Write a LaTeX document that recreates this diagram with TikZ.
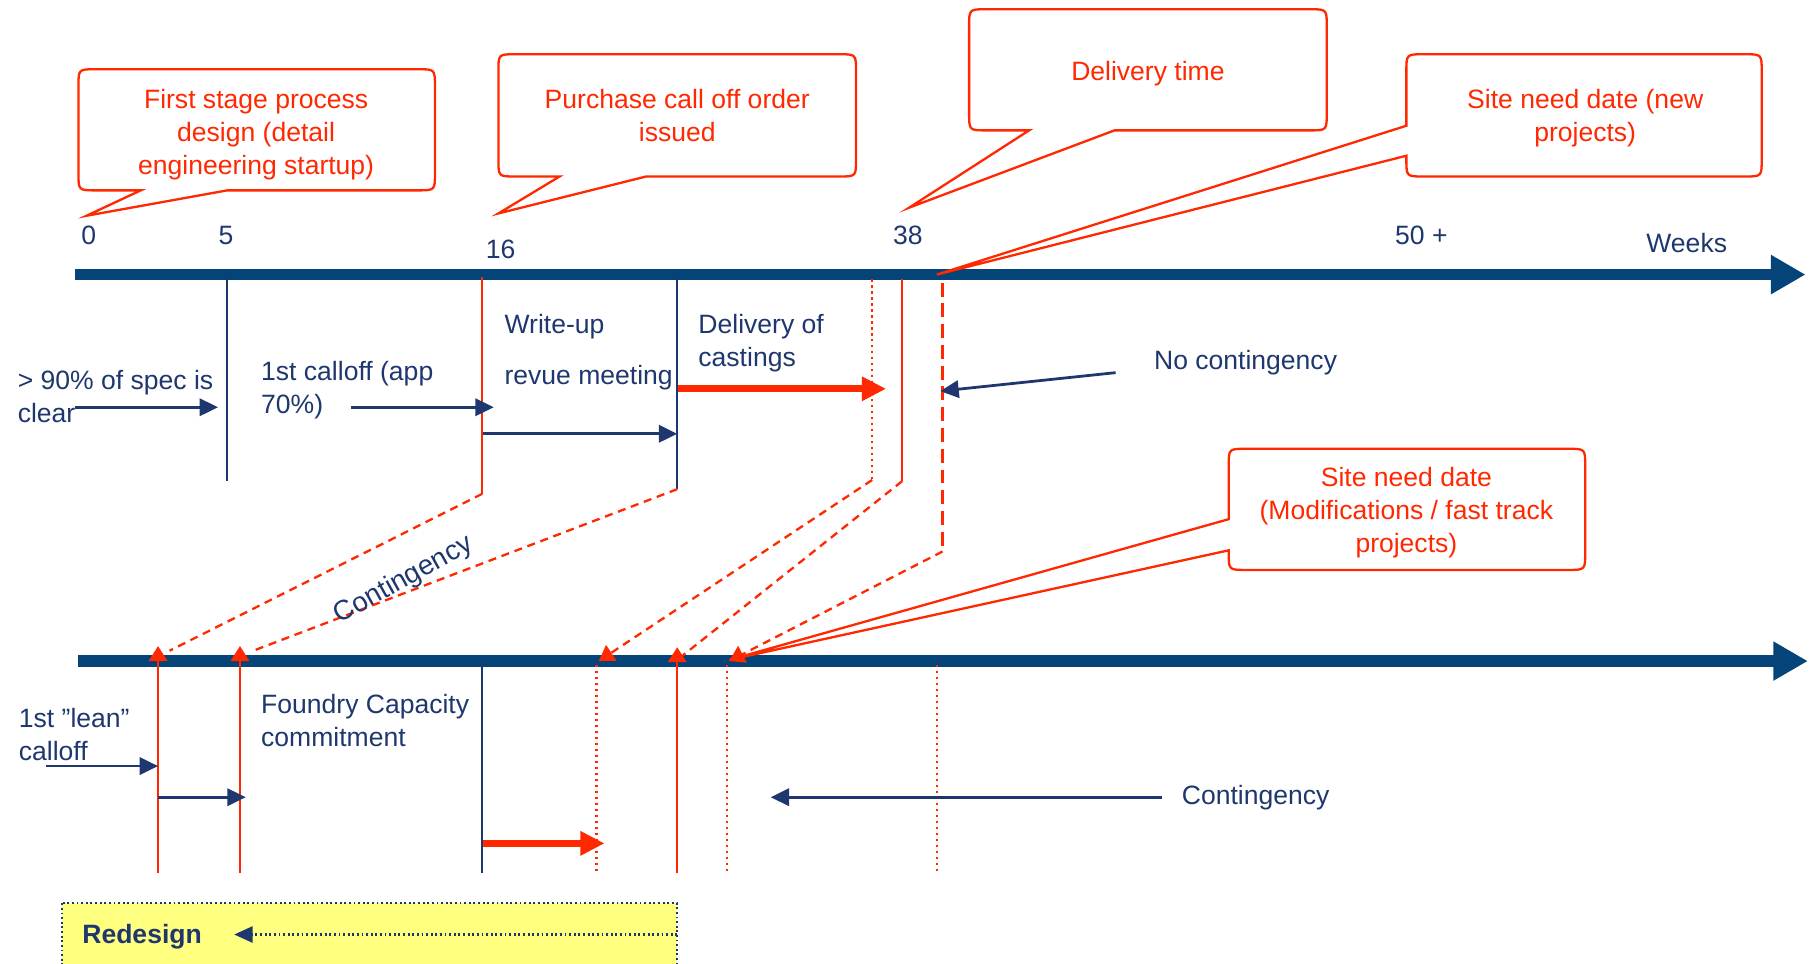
\documentclass[tikz,border=0pt]{standalone}
\usepackage{fontspec}
\setmainfont{Liberation Sans}
\usetikzlibrary{arrows.meta}
\definecolor{axisblue}{RGB}{4,68,120}
\definecolor{navy}{RGB}{30,55,110}
\definecolor{myred}{RGB}{255,40,0}
\definecolor{myyellow}{RGB}{255,255,128}
\newcommand\myfs{\fontsize{11.5}{14.3}\selectfont}
\begin{document}
\begin{tikzpicture}[x=0.5pt,y=-0.5pt,
  axis/.style={draw=axisblue,line width=5pt,-{Triangle[length=15pt,width=16pt]}},
  lbl/.style={text=navy,inner sep=0pt,font=\myfs},
  ltxt/.style={text=navy,inner sep=0pt,font=\myfs,align=left,anchor=base west},
  rtxt/.style={text=myred,inner sep=0pt,font=\myfs,align=center,anchor=base},
  call/.style={draw=myred,line width=1pt,fill=white,line join=miter},
  bluearr/.style={draw=navy,line width=1.2pt,-{Triangle[length=8pt,width=7.5pt]}},
  redthick/.style={draw=myred,line width=3.2pt,-{Triangle[length=10.5pt,width=10pt]}},
  bvline/.style={draw=navy,line width=1pt},
  rvline/.style={draw=myred,line width=1pt},
  rdot/.style={draw=myred,line width=1pt,dash pattern=on 1pt off 1.6pt},
  rdash/.style={draw=myred,line width=1pt,dash pattern=on 3.5pt off 2.5pt},
  rlong/.style={draw=myred,line width=1pt,dash pattern=on 6pt off 3pt},
  redtip/.style={-{Triangle[length=6.5pt,width=8pt]}}
]
\useasboundingbox (0,0) rectangle (1568,835);

% ---------- axes ----------
\coordinate (a1s) at (65,238);  \coordinate (a1e) at (1565,238);
\coordinate (a2s) at (68,573);  \coordinate (a2e) at (1567,573);
\draw[axis] (a1s) -- (a1e);
\draw[axis] (a2s) -- (a2e);

% ---------- top verticals ----------
\coordinate (v1t) at (197,240); \coordinate (v1b) at (197,417);
\coordinate (v2t) at (418,240); \coordinate (v2b) at (418,428);
\coordinate (v3t) at (587,240); \coordinate (v3b) at (587,424);
\coordinate (v4t) at (756,242); \coordinate (v4b) at (756,416);
\coordinate (v5t) at (782,242); \coordinate (v5b) at (782,417);
\coordinate (v6t) at (817,245); \coordinate (v6b) at (817,476);
\draw[bvline] (v1t) -- (v1b);
\draw[rvline] (v2t) -- (v2b);
\draw[bvline] (v3t) -- (v3b);
\draw[rdot] (v4t) -- (v4b);
\draw[rvline] (v5t) -- (v5b);
\draw[rlong] (v6t) -- (v6b);

% ---------- bottom verticals ----------
\coordinate (w1b) at (137,757); \coordinate (w1t) at (137,560);
\coordinate (w2b) at (208,757); \coordinate (w2t) at (208,560);
\coordinate (w3t) at (418,575); \coordinate (w3b) at (418,757);
\coordinate (w4t) at (517,576); \coordinate (w4b) at (517,757);
\coordinate (w5b) at (587,757); \coordinate (w5t) at (587,561);
\coordinate (w6t) at (630,576); \coordinate (w6b) at (630,757);
\coordinate (w7t) at (812,576); \coordinate (w7b) at (812,757);
\draw[rvline,redtip] (w1b) -- (w1t);
\draw[rvline,redtip] (w2b) -- (w2t);
\draw[bvline] (w3t) -- (w3b);
\draw[rdot] (w4t) -- (w4b);
\draw[rvline,redtip] (w5b) -- (w5t);
\draw[rdot] (w6t) -- (w6b);
\draw[rdot] (w7t) -- (w7b);

% ---------- dashed diagonals ----------
\coordinate (d1e) at (147,564);
\coordinate (d2e) at (217,565);
\coordinate (d3e) at (519,573);
\coordinate (d4e) at (592,568);
\coordinate (d5e) at (632,573);
\coordinate (v6c) at (817,478);
\draw[rdash] (v2b) -- (d1e);
\draw[rdash] (v3b) -- (d2e);
\draw[rdash,redtip] (v4b) -- (d3e);
\draw[rdash] (v5b) -- (d4e);
\draw[rdash,redtip] (v6c) -- (d5e);

% ---------- axis labels ----------
\node[lbl,anchor=base] (l0) at (77,212) {0};
\node[lbl,anchor=base] (l5) at (196,212) {5};
\node[lbl,anchor=base] (l16) at (434,224) {16};
\node[lbl,anchor=base] (l38) at (787,212) {38};
\node[lbl,anchor=base] (l50) at (1232,212) {50 +};
\node[lbl,anchor=base] (lwk) at (1462,219) {Weeks};

% ---------- callouts ----------
\draw[call] (83,60) -- (362,60) .. controls (377,60) .. (377,75) -- (377,150)
  .. controls (377,165) .. (362,165) -- (197,165) -- (75,187) -- (122,165) -- (83,165)
  .. controls (68,165) .. (68,150) -- (68,75) .. controls (68,60) .. (83,60) -- cycle;
\node[rtxt] (c1) at (222,151) {First stage process\\design (detail\\engineering startup)};

\draw[call] (447,47) -- (727,47) .. controls (742,47) .. (742,62) -- (742,138)
  .. controls (742,153) .. (727,153) -- (560,153) -- (432,185) -- (485,153) -- (447,153)
  .. controls (432,153) .. (432,138) -- (432,62) .. controls (432,47) .. (447,47) -- cycle;
\node[rtxt] (c2) at (587,123) {Purchase call off order\\issued};

\draw[call] (855,8) -- (1135,8) .. controls (1150,8) .. (1150,23) -- (1150,98)
  .. controls (1150,113) .. (1135,113) -- (966,113) -- (788,180) -- (892,113) -- (855,113)
  .. controls (840,113) .. (840,98) -- (840,23) .. controls (840,8) .. (855,8) -- cycle;
\node[rtxt] (c3) at (995,70) {Delivery time};

\draw[call] (1234,47) -- (1512,47) .. controls (1527,47) .. (1527,62) -- (1527,138)
  .. controls (1527,153) .. (1512,153) -- (1234,153) .. controls (1219,153) .. (1219,138)
  -- (1219,135) -- (812,238) -- (1219,109) -- (1219,62) .. controls (1219,47) .. (1234,47) -- cycle;
\node[rtxt] (c4) at (1374,123) {Site need date (new\\projects)};

\draw[call] (1080,389) -- (1359,389) .. controls (1374,389) .. (1374,404) -- (1374,479)
  .. controls (1374,494) .. (1359,494) -- (1080,494) .. controls (1065,494) .. (1065,479)
  -- (1065,477) -- (632,572) -- (1065,450) -- (1065,404) .. controls (1065,389) .. (1080,389) -- cycle;
\node[rtxt] (c5) at (1219,479) {Site need date\\(Modifications / fast track\\projects)};

% ---------- top texts and arrows ----------
\node[ltxt] (t1) at (15,366) {> 90\% of spec is\\clear};
\coordinate (ar1s) at (65,353); \coordinate (ar1e) at (189,353);
\draw[bluearr] (ar1s) -- (ar1e);

\node[ltxt] (t2) at (226,358) {1st calloff (app\\70\%)};
\coordinate (ar2s) at (304,353); \coordinate (ar2e) at (428,353);
\draw[bluearr] (ar2s) -- (ar2e);

\node[ltxt,font=\fontsize{11.5}{22}\selectfont] (t3) at (437,333) {Write-up\\revue meeting};
\coordinate (ar3s) at (419,376);
\draw[bluearr] (ar3s) -- (v3b |- ar3s);

\node[ltxt] (t4) at (605,318) {Delivery of\\castings};
\coordinate (ar4s) at (588,337); \coordinate (ar4e) at (768,337);
\draw[redthick] (ar4s) -- (ar4e);

\node[ltxt] (t5) at (1000,320) {No contingency};
\coordinate (ar5s) at (967,323); \coordinate (ar5e) at (815,339);
\draw[bluearr] (ar5s) -- (ar5e);

\node[lbl,rotate=29,font=\fontsize{12}{14}\selectfont] (t6) at (350,503) {Contingency};

% ---------- bottom texts and arrows ----------
\node[ltxt] (b1) at (16,659) {1st ”lean”\\calloff};
\coordinate (br1s) at (40,664);
\draw[bluearr] (br1s) -- (w1b |- br1s);

\coordinate (br2s) at (137,691); \coordinate (br2e) at (213,691);
\draw[bluearr] (br2s) -- (br2e);

\node[ltxt] (b2) at (226,647) {Foundry Capacity\\commitment};

\coordinate (br3s) at (419,731); \coordinate (br3e) at (524,731);
\draw[redthick] (br3s) -- (br3e);

\node[ltxt] (b3) at (1024,697) {Contingency};
\coordinate (br4s) at (1007,691); \coordinate (br4e) at (668,691);
\draw[bluearr] (br4s) -- (br4e);

% ---------- redesign box ----------
\coordinate (rb1) at (54,783); \coordinate (rb2) at (587,845);
\draw[navy,fill=myyellow,line width=0.8pt,dash pattern=on 0.8pt off 1.2pt] (rb1) rectangle (rb2);
\node[ltxt,font=\myfs\bfseries] (rd) at (71,818) {Redesign};
\coordinate (rds) at (587,810); \coordinate (rde) at (203,810);
\draw[navy,line width=1pt,dash pattern=on 0.8pt off 1.2pt,-{Triangle[length=8pt,width=7pt]}] (rds) -- (rde);
\end{tikzpicture}
\end{document}
